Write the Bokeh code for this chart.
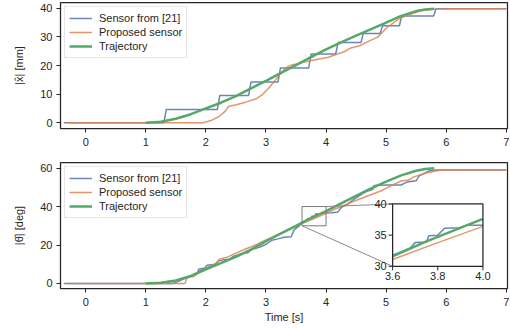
import numpy as np
from bokeh.plotting import figure
from bokeh.models import Range1d, FixedTicker
from bokeh.layouts import column
from bokeh.embed import file_html
from bokeh.resources import INLINE
from bokeh.core.properties import value

# ---------------- data ----------------
x_ticks = [0, 1, 2, 3, 4, 5, 6, 7]
top_yticks = [0, 10, 20, 30, 40]
bot_yticks = [0, 20, 40, 60]

# position |x| [mm]
traj_t_top = [1.0, 1.25, 1.5, 1.75, 2.0, 2.25, 2.5, 2.75, 3.0, 3.25, 3.5, 3.75, 4.0,
              4.25, 4.5, 4.75, 5.0, 5.25, 5.5, 5.65, 5.8]
traj_x_top = [0, 0.35, 1.4, 3.0, 5.0, 7.0, 9.3, 12.0, 14.6, 17.4, 20.1, 22.9, 25.6,
              28.1, 30.4, 32.7, 35.0, 37.3, 39.0, 39.6, 39.8]

s21_t_top = [-0.36, 1.30, 1.34, 2.19, 2.23, 2.71, 2.75, 3.20, 3.24, 3.71, 3.75, 4.16,
             4.20, 4.58, 4.62, 4.90, 4.94, 5.22, 5.26, 5.79, 5.83, 7.0]
s21_x_top = [0, 0, 4.6, 4.6, 9.5, 9.5, 14.2, 14.2, 19.1, 19.1, 24.0, 24.0,
             28.0, 28.0, 31.2, 31.2, 33.9, 33.9, 37.3, 37.3, 39.8, 39.8]

prop_t_top = [-0.3, 1.95, 2.1, 2.21, 2.32, 2.38, 2.49, 2.66, 2.83, 2.94, 3.05, 3.16,
              3.27, 3.35, 3.43, 3.6, 3.82, 4.04, 4.2, 4.3, 4.4, 4.57, 4.73, 4.85, 4.9,
              5.0, 5.12, 5.23, 5.4, 5.57, 5.8, 6.08, 7.0]
prop_x_top = [0, 0, 0.9, 2.1, 4.0, 5.8, 6.2, 7.2, 8.3, 9.8, 12.2, 15.0,
              17.9, 19.5, 20.2, 21.0, 22.0, 22.9, 24.1, 24.8, 26.0, 27.0, 28.7, 29.8, 30.7,
              33.0, 34.9, 36.5, 37.9, 39.0, 39.6, 39.8, 39.8]

# angle |theta| [deg]
traj_t_bot = [1.0, 1.25, 1.5, 1.75, 2.0, 2.25, 2.5, 2.75, 3.0, 3.25, 3.5, 3.6, 3.75, 4.0,
              4.25, 4.5, 4.75, 5.0, 5.25, 5.5, 5.65, 5.8]
traj_a_bot = [0, 0.4, 1.6, 3.9, 7.4, 10.6, 13.9, 17.6, 22.0, 26.0, 30.0, 31.6, 34.0, 37.6,
              41.6, 45.5, 49.4, 53.0, 56.2, 58.6, 59.5, 59.9]

s21_t_bot = [-0.36, 1.45, 1.5, 1.6, 1.7, 1.8, 1.86, 1.88, 1.98, 2.02, 2.15, 2.2, 2.3, 2.4,
             2.45, 2.6, 2.7, 2.75, 2.9, 3.0, 3.1, 3.2, 3.3, 3.42, 3.47, 3.55, 3.6, 3.65,
             3.68, 3.70, 3.75, 3.76, 3.80, 3.83, 3.90, 3.93, 4.0, 4.1, 4.2, 4.25, 4.35,
             4.45, 4.55, 4.65, 4.78, 4.80, 5.0, 5.25, 5.35, 5.5, 5.55, 5.65, 5.72, 5.8, 7.0]
s21_a_bot = [0, 0, 0.6, 1.9, 3.2, 4.6, 5.4, 7.4, 8.0, 9.5, 10.0, 11.5, 12.4, 12.6,
             14.0, 15.6, 16.0, 17.5, 19.0, 20.4, 22.5, 23.2, 24.0, 24.3, 28.0, 29.8, 31.8, 32.5,
             33.0, 33.8, 33.9, 34.9, 35.0, 36.1, 36.2, 36.6, 36.6, 36.8, 37.2, 39.5, 41.0,
             43.5, 45.5, 47.5, 49.0, 51.0, 51.2, 51.2, 52.8, 53.4, 56.0, 57.5, 58.6, 59.0, 59.0]

prop_t_bot = [-0.3, 1.65, 1.68, 1.72, 1.8, 1.85, 1.9, 2.0, 2.1, 2.18, 2.22, 2.35, 2.5,
              2.65, 2.8, 3.0, 3.2, 3.4, 3.6, 3.8, 4.0, 4.14, 4.4, 4.69, 4.91, 5.13, 5.25,
              5.38, 5.45, 5.68, 5.9, 6.1, 7.0]
prop_a_bot = [0, 0, 2.5, 3.4, 3.6, 5.0, 6.8, 8.0, 9.4, 10.5, 12.6, 13.6, 15.8,
              17.8, 19.6, 22.6, 25.3, 28.3, 31.1, 33.8, 36.4, 38.6, 42.0, 45.5, 48.1, 51.5, 53.3,
              53.8, 55.3, 57.6, 58.9, 59.0, 59.0]

# inset (zoom) limits and ticks
inset_xlim = (3.6, 4.0)
inset_ylim = (30, 40)
inset_xticks = [3.6, 3.8, 4.0]
inset_xticklabels = ["3.6", "3.8", "4.0"]
inset_yticks = [30, 35, 40]
inset_yticklabels = ["30", "35", "40"]

labels = ["Sensor from [21]", "Proposed sensor", "Trajectory"]

# ---------------- style ----------------
BLUE = "#4c72b0"
ORANGE = "#dd8452"
GREEN = "#55a868"
TXT = "#262626"
FONT = "Liberation Sans"
FS = "11px"
XR = (-0.42, 7.02)
W = 510


def make_fig(height, ylim, yticks, ylabel, top, bottom, xlabel=None):
    p = figure(width=W, height=height, x_range=Range1d(*XR), y_range=Range1d(*ylim),
               output_backend="svg", toolbar_location=None,
               min_border_left=60, min_border_right=3,
               min_border_top=top, min_border_bottom=bottom)
    p.grid.visible = False
    p.outline_line_color = TXT
    p.outline_line_width = 1.25
    p.outline_line_alpha = 1.0
    p.xaxis.ticker = FixedTicker(ticks=x_ticks)
    p.yaxis.ticker = FixedTicker(ticks=yticks)
    for ax in (p.xaxis, p.yaxis):
        ax.axis_line_color = None
        ax.major_tick_line_color = TXT
        ax.major_tick_line_width = 1
        ax.major_tick_out = 4
        ax.major_tick_in = 0
        ax.minor_tick_line_color = None
        ax.major_label_text_font = FONT
        ax.major_label_text_font_size = FS
        ax.major_label_text_color = TXT
        ax.axis_label_text_font = FONT
        ax.axis_label_text_font_size = FS
        ax.axis_label_text_color = TXT
        ax.axis_label_text_font_style = "normal"
    p.xaxis.major_label_standoff = 5
    p.yaxis.major_label_standoff = 4
    p.yaxis.axis_label = ylabel
    p.yaxis.axis_label_standoff = 12
    if xlabel:
        p.xaxis.axis_label = xlabel
        p.xaxis.axis_label_standoff = 2
    return p


def style_legend(p):
    lg = p.legend[0]
    lg.location = "top_left"
    lg.margin = 4
    lg.padding = 4
    lg.spacing = 0
    lg.label_text_font = FONT
    lg.label_text_font_size = FS
    lg.label_text_color = TXT
    lg.label_height = 14
    lg.glyph_height = 14
    lg.glyph_width = 23
    lg.label_standoff = 7
    lg.border_line_color = "#cccccc"
    lg.border_line_width = 1
    lg.background_fill_alpha = 0.85


# ---------------- top plot ----------------
p1 = make_fig(156, (-2.0, 42.0), top_yticks, "|x\u0302| [mm]", 2, 28)
p1.line(s21_t_top, s21_x_top, color=BLUE, line_width=1.5, line_alpha=0.85, legend_label=labels[0])
p1.line(prop_t_top, prop_x_top, color=ORANGE, line_width=1.5, line_alpha=0.85, legend_label=labels[1])
p1.line(traj_t_top, traj_x_top, color=GREEN, line_width=2.5, legend_label=labels[2])
style_legend(p1)

# ---------------- bottom plot ----------------
YR2 = (-2.6, 62.9)
p2 = make_fig(172, YR2, bot_yticks, "|\u03b8\u0302| [deg]", 6, 40, xlabel="Time [s]")
p2.line(s21_t_bot, s21_a_bot, color=BLUE, line_width=1.5, line_alpha=0.85, legend_label=labels[0])
p2.line(prop_t_bot, prop_a_bot, color=ORANGE, line_width=1.5, line_alpha=0.85, legend_label=labels[1])
p2.line(traj_t_bot, traj_a_bot, color=GREEN, line_width=2.5, legend_label=labels[2])
style_legend(p2)

# inset placement as fractions of the frame
fx0, fx1 = 0.743, 0.945
fy0, fy1 = 0.176, 0.671
sx = (inset_xlim[1] - inset_xlim[0]) / (fx1 - fx0)
ix_start = inset_xlim[0] - fx0 * sx
sy = (inset_ylim[1] - inset_ylim[0]) / (fy1 - fy0)
iy_start = inset_ylim[0] - fy0 * sy
p2.extra_x_ranges = {"ix": Range1d(ix_start, ix_start + sx)}
p2.extra_y_ranges = {"iy": Range1d(iy_start, iy_start + sy)}

# inset corners in main data coordinates (for connector lines)
cx0 = XR[0] + fx0 * (XR[1] - XR[0])
cy0 = YR2[0] + fy0 * (YR2[1] - YR2[0])
cy1 = YR2[0] + fy1 * (YR2[1] - YR2[0])

# zoom rectangle + connectors
p2.quad(left=[inset_xlim[0]], right=[inset_xlim[1]], bottom=[inset_ylim[0]], top=[inset_ylim[1]],
        fill_color=None, line_color="#7a7a7a", line_width=1)
p2.segment(x0=[inset_xlim[1], inset_xlim[0]], y0=[inset_ylim[1], inset_ylim[0]],
           x1=[cx0, cx0], y1=[cy1, cy0], line_color="#8a8a8a", line_width=1)

# inset box
kw = dict(x_range_name="ix", y_range_name="iy")
p2.quad(left=[inset_xlim[0]], right=[inset_xlim[1]], bottom=[inset_ylim[0]], top=[inset_ylim[1]],
        fill_color="white", line_color=None, **kw)


def clip(t, v):
    t = np.asarray(t, float)
    v = np.asarray(v, float)
    m = (t >= inset_xlim[0]) & (t <= inset_xlim[1])
    return t[m], v[m]


tb, vb = clip(s21_t_bot, s21_a_bot)
to, vo = clip(prop_t_bot, prop_a_bot)
tg, vg = clip(traj_t_bot, traj_a_bot)
p2.line(tb, vb, color=BLUE, line_width=1.5, line_alpha=0.85, **kw)
p2.line(to, vo, color=ORANGE, line_width=1.5, line_alpha=0.85, **kw)
p2.line(tg, vg, color=GREEN, line_width=2.5, **kw)
p2.quad(left=[inset_xlim[0]], right=[inset_xlim[1]], bottom=[inset_ylim[0]], top=[inset_ylim[1]],
        fill_color=None, line_color=TXT, line_width=1.25, **kw)

# inset ticks and labels
p2.ray(x=inset_xticks, y=[inset_ylim[0]] * len(inset_xticks), length=4, length_units="screen",
       angle=-np.pi / 2, line_color=TXT, line_width=1, **kw)
p2.ray(x=[inset_xlim[0]] * len(inset_yticks), y=inset_yticks, length=4, length_units="screen",
       angle=np.pi, line_color=TXT, line_width=1, **kw)
p2.text(x=inset_xticks, y=[inset_ylim[0]] * len(inset_xticks), text=inset_xticklabels,
        text_align="center", text_baseline="top", y_offset=6,
        text_font=value(FONT), text_font_size=FS, text_color=TXT, **kw)
p2.text(x=[inset_xlim[0]] * len(inset_yticks), y=inset_yticks, text=inset_yticklabels,
        text_align="right", text_baseline="middle", x_offset=-6,
        text_font=value(FONT), text_font_size=FS, text_color=TXT, **kw)

layout = column(p1, p2, spacing=0)
open("out.html", "w").write(file_html(layout, INLINE))
